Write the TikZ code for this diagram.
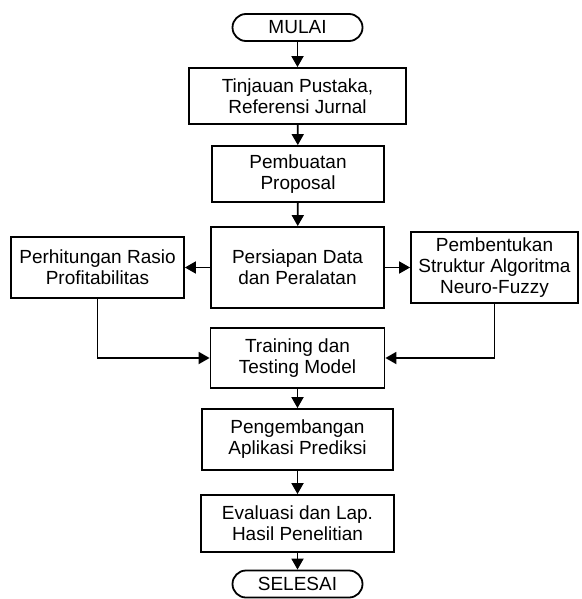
\documentclass[tikz,border=0pt]{standalone}
\usepackage{fontspec}
\setmainfont{Liberation Sans}
\usetikzlibrary{arrows.meta}
\begin{document}
\begin{tikzpicture}[x=1pt,y=-1pt,
  every node/.style={font=\fontsize{19}{21}\selectfont, align=center, inner sep=0pt},
  box/.style={draw, line width=1.8pt, rectangle},
  term/.style={draw, line width=1.8pt, rounded corners=13.5pt, minimum height=27pt, minimum width=130pt},
  arr/.style={line width=1.8pt, -{Triangle[length=11pt,width=12pt]}}]
\useasboundingbox (0,0) rectangle (581,599);
\node[term] (mulai) at (297.5,27.5) {MULAI};
\node[box, minimum width=217pt, minimum height=56pt] (b1) at (297.5,96) {Tinjauan Pustaka,\\Referensi Jurnal};
\node[box, minimum width=172pt, minimum height=56pt] (b2) at (298,174) {Pembuatan\\Proposal};
\node[box, minimum width=173pt, minimum height=81pt] (b3) at (297.5,267.5) {Persiapan Data\\dan Peralatan};
\node[box, minimum width=173pt, minimum height=61pt] (left) at (97.5,267.5) {Perhitungan Rasio\\Profitabilitas};
\node[box, minimum width=167pt, minimum height=71pt] (right) at (494.5,267.5) {Pembentukan\\Struktur Algoritma\\Neuro-Fuzzy};
\node[box, minimum width=174pt, minimum height=60pt] (b4) at (297.5,358) {Training dan\\Testing Model};
\node[box, minimum width=191pt, minimum height=61pt] (b5) at (297.5,439.5) {Pengembangan\\Aplikasi Prediksi};
\node[box, minimum width=193pt, minimum height=57pt] (b6) at (297.5,523.5) {Evaluasi dan Lap.\\Hasil Penelitian};
\node[term] (selesai) at (297.5,584) {SELESAI};
\draw[arr] (mulai) -- (b1);
\draw[arr] (b1) -- (b2);
\draw[arr] (b2) -- (b3);
\draw[arr] (b3.west) -- (b3.west -| left.east);
\draw[arr] (b3.east) -- (b3.east -| right.west);
\draw[arr] (left.south) |- (b4.west);
\draw[arr] (right.south) |- (b4.east);
\draw[arr] (b4) -- (b5);
\draw[arr] (b5) -- (b6);
\draw[arr] (b6) -- (selesai);
\end{tikzpicture}
\end{document}
